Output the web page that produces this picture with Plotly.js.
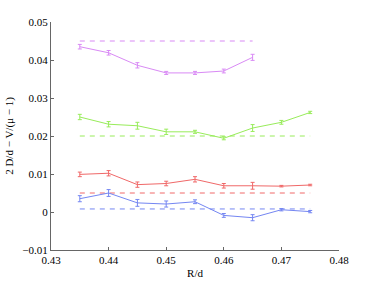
<!DOCTYPE html>
<html>
<head>
<meta charset="utf-8">
<script src="https://cdn.plot.ly/plotly-3.0.1.min.js"></script>
<style>html,body{margin:0;padding:0;background:#fff;}#chart{width:374px;height:282px;}</style>
</head>
<body>
<div id="chart"></div>
<script>
// R/d values
const rd = [0.435, 0.44, 0.445, 0.45, 0.455, 0.46, 0.465, 0.47, 0.475];
const rdPurple = [0.435, 0.44, 0.445, 0.45, 0.455, 0.46, 0.465];

// measured series
const purpleVals = [0.0435, 0.0419, 0.0386, 0.0366, 0.0366, 0.0371, 0.0407];
const purpleErr  = [0.0006, 0.0006, 0.0007, 0.0004, 0.0004, 0.0005, 0.0008];
const greenVals  = [0.0250, 0.0231, 0.0227, 0.0211, 0.0211, 0.0194, 0.0221, 0.0236, 0.0262];
const greenErr   = [0.0007, 0.0007, 0.0009, 0.0007, 0.0004, 0.0004, 0.0009, 0.0005, 0.0003];
const redVals    = [0.0099, 0.0102, 0.0072, 0.0075, 0.0086, 0.0069, 0.0069, 0.0068, 0.0071];
const redErr     = [0.0006, 0.0007, 0.0007, 0.0006, 0.0007, 0.0006, 0.0009, 0.0002, 0.0002];
const blueVals   = [0.0035, 0.0050, 0.0024, 0.0021, 0.0027, -0.0009, -0.0015, 0.0006, 0.0001];
const blueErr    = [0.0008, 0.0009, 0.0009, 0.0008, 0.0005, 0.0005, 0.0008, 0.0003, 0.0003];

// reference (dashed) levels
const purpleRef = 0.045;
const greenRef  = 0.020;
const redRef    = 0.005;
const blueRef   = 0.0008;

const cPurple = '#d98af5', cGreen = '#98ec5a', cRed = '#f06868', cBlue = '#7486f2';

function series(x, y, e, c) {
  return {x: x, y: y, type: 'scatter', mode: 'lines', line: {color: c, width: 1},
    error_y: {type: 'data', array: e, visible: true, color: c, thickness: 1, width: 2},
    hoverinfo: 'skip'};
}
function refLine(x, v, c) {
  return {x: [x[0], x[x.length - 1]], y: [v, v], type: 'scatter', mode: 'lines',
    line: {color: c, width: 1, dash: '5px,5px'}, hoverinfo: 'skip'};
}

const data = [
  refLine(rdPurple, purpleRef, cPurple),
  refLine(rd, greenRef, cGreen),
  refLine(rd, redRef, cRed),
  refLine(rd, blueRef, cBlue),
  series(rdPurple, purpleVals, purpleErr, cPurple),
  series(rd, greenVals, greenErr, cGreen),
  series(rd, redVals, redErr, cRed),
  series(rd, blueVals, blueErr, cBlue)
];

const axFont = {family: 'Liberation Serif, serif', size: 11, color: '#000'};
const layout = {
  width: 374, height: 282,
  margin: {l: 51, r: 35, t: 22, b: 32},
  paper_bgcolor: '#fff', plot_bgcolor: '#fff',
  showlegend: false,
  font: axFont,
  xaxis: {
    range: [0.43, 0.48], tickvals: [0.43, 0.44, 0.45, 0.46, 0.47, 0.48],
    ticktext: ['0.43', '0.44', '0.45', '0.46', '0.47', '0.48'],
    showgrid: false, zeroline: false, showline: true, linecolor: '#666', linewidth: 1,
    ticks: 'inside', ticklen: 3, tickcolor: '#666', tickfont: axFont,
    title: {text: 'R/d', font: axFont, standoff: 4}
  },
  yaxis: {
    range: [-0.01, 0.05], tickvals: [-0.01, 0, 0.01, 0.02, 0.03, 0.04, 0.05],
    ticktext: ['\u22120.01', '0', '0.01', '0.02', '0.03', '0.04', '0.05'],
    showgrid: false, zeroline: false, showline: true, linecolor: '#666', linewidth: 1,
    ticks: 'inside', ticklen: 3, tickcolor: '#666', tickfont: axFont,
    title: {text: '2 D/d \u2212 V/(\u03bc \u2212 1)', font: axFont, standoff: 6}
  }
};

Plotly.newPlot('chart', data, layout, {staticPlot: true, displayModeBar: false});
</script>
</body>
</html>
